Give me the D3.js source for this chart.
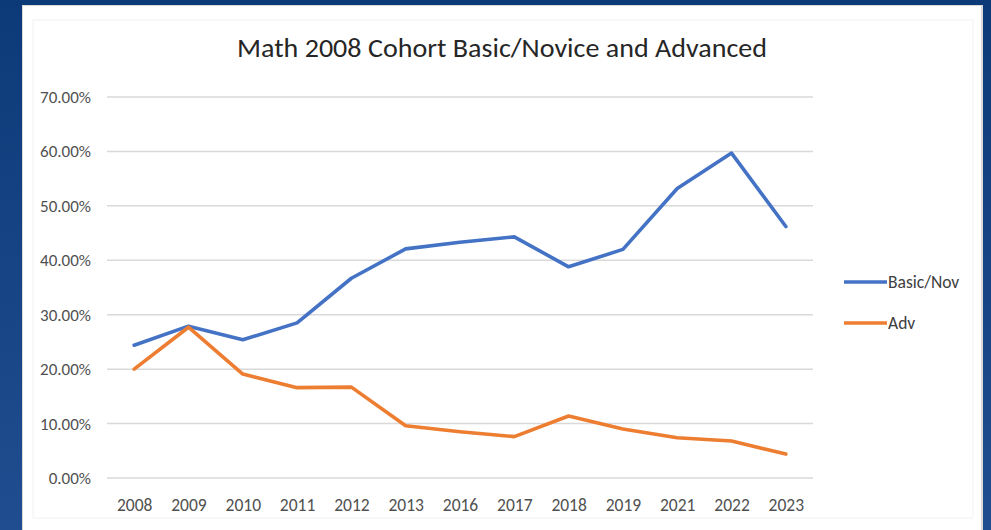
<!DOCTYPE html>
<html>
<head>
<meta charset="utf-8">
<script src="https://cdn.jsdelivr.net/npm/d3@7"></script>
<style>
  html, body { margin: 0; padding: 0; }
  body { width: 991px; height: 530px; overflow: hidden; }
  svg { display: block; }
</style>
</head>
<body>
<svg id="chart" width="991" height="530"></svg>
<script>
// Cohort years (category axis)
const years = ["2008","2009","2010","2011","2012","2013","2016","2017","2018","2019","2021","2022","2023"];
// Share of students scoring Basic/Novice
const basicNov = [0.244, 0.279, 0.254, 0.285, 0.367, 0.421, 0.433, 0.443, 0.388, 0.420, 0.532, 0.597, 0.462];
// Share of students scoring Advanced
const adv = [0.200, 0.277, 0.191, 0.166, 0.167, 0.096, 0.085, 0.076, 0.114, 0.090, 0.074, 0.068, 0.044];
const yTicks = [0, 0.1, 0.2, 0.3, 0.4, 0.5, 0.6, 0.7];
const seriesNames = ["Basic/Nov", "Adv"];
const seriesColors = ["#4472C4", "#ED7D31"];

const svg = d3.select("#chart");
const font = "Carlito, Calibri, 'Liberation Sans Narrow', 'Open Sans', sans-serif";

// Backdrop: blue slide with white chart panel
const defs = svg.append("defs");
const grad = defs.append("linearGradient").attr("id", "bg").attr("x1", 0).attr("y1", 0).attr("x2", 0).attr("y2", 1);
grad.append("stop").attr("offset", "0%").attr("stop-color", "#0c3a79");
grad.append("stop").attr("offset", "100%").attr("stop-color", "#1f4d8f");
svg.append("rect").attr("width", 991).attr("height", 530).attr("fill", "url(#bg)");
svg.append("rect").attr("x", 22).attr("y", 5).attr("width", 961).attr("height", 530).attr("fill", "#d9d9d9");
svg.append("rect").attr("x", 23).attr("y", 6).attr("width", 958).attr("height", 530).attr("fill", "#ffffff");
// faint chart-area outline
svg.append("rect").attr("x", 33).attr("y", 20).attr("width", 940).attr("height", 498)
  .attr("fill", "none").attr("stroke", "#f2f2f2").attr("stroke-width", 1);

const plot = { left: 107, right: 813, top: 97, bottom: 478 };

const x = d3.scalePoint().domain(years).range([plot.left, plot.right]).padding(0.5);
const y = d3.scaleLinear().domain([0, 0.7]).range([plot.bottom, plot.top]);

// Horizontal gridlines
svg.append("g")
  .selectAll("line")
  .data(yTicks)
  .join("line")
  .attr("x1", plot.left).attr("x2", plot.right)
  .attr("y1", d => y(d)).attr("y2", d => y(d))
  .attr("stroke", "#d9d9d9").attr("stroke-width", 1.5);

// Y axis labels
const yAxis = d3.axisLeft(y).tickValues(yTicks).tickFormat(d3.format(".2%")).tickSize(0).tickPadding(0);
const gy = svg.append("g").attr("transform", `translate(91,0)`).call(yAxis);
gy.select(".domain").remove();
gy.selectAll("text").attr("font-family", font).attr("font-size", 17).attr("fill", "#505050");

// X axis labels
const xAxis = d3.axisBottom(x).tickSize(0).tickPadding(0);
const gx = svg.append("g").attr("transform", `translate(0,${plot.bottom + 21})`).call(xAxis);
gx.select(".domain").remove();
gx.selectAll("text").attr("font-family", font).attr("font-size", 17.5).attr("fill", "#505050");

// Series lines
const line = d3.line().x((d, i) => x(years[i])).y(d => y(d));
[basicNov, adv].forEach((vals, k) => {
  svg.append("path")
    .datum(vals)
    .attr("d", line)
    .attr("fill", "none")
    .attr("stroke", seriesColors[k])
    .attr("stroke-width", 3.6)
    .attr("stroke-linejoin", "round")
    .attr("stroke-linecap", "round");
});

// Legend
const legendY = [282, 323];
seriesNames.forEach((name, k) => {
  svg.append("line")
    .attr("x1", 844).attr("x2", 887)
    .attr("y1", legendY[k]).attr("y2", legendY[k])
    .attr("stroke", seriesColors[k]).attr("stroke-width", 3.6);
  svg.append("text")
    .attr("x", 888).attr("y", legendY[k] + 6)
    .attr("font-family", font).attr("font-size", 17.5).attr("fill", "#404040")
    .text(name);
});

// Title
svg.append("text")
  .attr("x", 502).attr("y", 57)
  .attr("text-anchor", "middle")
  .attr("font-family", font).attr("font-size", 27).attr("fill", "#262626")
  .attr("textLength", 530).attr("lengthAdjust", "spacingAndGlyphs")
  .text("Math 2008 Cohort Basic/Novice and Advanced");
</script>
</body>
</html>
